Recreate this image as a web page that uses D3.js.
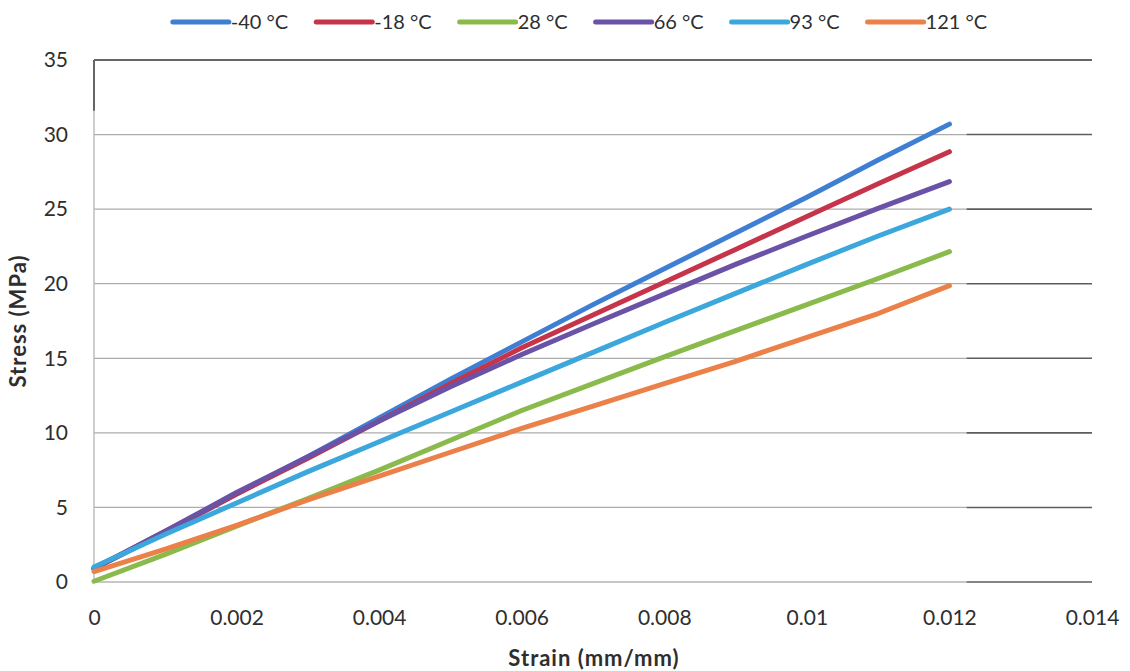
<!DOCTYPE html>
<html>
<head>
<meta charset="utf-8">
<script src="https://cdn.jsdelivr.net/npm/d3@7"></script>
<style>
  body { margin: 0; background: #fff; }
  text { font-family: Lato, "Open Sans", sans-serif; fill: #2e2e2e; }
</style>
</head>
<body>
<svg id="chart" width="1130" height="671"></svg>
<script>
// Strain samples (mm/mm) and measured stress (MPa) per test temperature
const strain = [0, 0.001, 0.002, 0.003, 0.004, 0.005, 0.006, 0.007, 0.008, 0.009, 0.010, 0.011, 0.012];
const seriesNames = ["-40 °C", "-18 °C", "28 °C", "66 °C", "93 °C", "121 °C"];
const stressM40 = [0.9, 3.3, 5.9, 8.4, 11.0, 13.6, 16.1, 18.6, 21.0, 23.4, 25.8, 28.3, 30.7];
const stressM18 = [0.9, 3.4, 5.9, 8.3, 10.8, 13.3, 15.7, 17.9, 20.1, 22.3, 24.5, 26.7, 28.85];
const stress28  = [0.05, 1.85, 3.75, 5.6, 7.5, 9.5, 11.5, 13.3, 15.1, 16.85, 18.6, 20.35, 22.15];
const stress66  = [0.9, 3.4, 6.0, 8.4, 10.8, 13.1, 15.25, 17.3, 19.3, 21.3, 23.2, 25.05, 26.85];
const stress93  = [1.0, 3.2, 5.3, 7.4, 9.4, 11.4, 13.4, 15.4, 17.4, 19.35, 21.3, 23.2, 25.0];
const stress121 = [0.7, 2.2, 3.8, 5.5, 7.1, 8.7, 10.3, 11.8, 13.3, 14.8, 16.4, 18.0, 19.87];
const seriesColors = ["#3f7fd3", "#c6344a", "#8aba4c", "#6a52a6", "#3ca7dc", "#eb8049"];

const xTickValues = [0, 0.002, 0.004, 0.006, 0.008, 0.010, 0.012, 0.014];
const xTickLabels = ["0", "0.002", "0.004", "0.006", "0.008", "0.01", "0.012", "0.014"];
const yTickValues = [0, 5, 10, 15, 20, 25, 30, 35];
const yTickLabels = ["0", "5", "10", "15", "20", "25", "30", "35"];

const series = [stressM40, stressM18, stress28, stress66, stress93, stress121].map((vals, i) => ({
  name: seriesNames[i],
  color: seriesColors[i],
  points: strain.map((s, j) => [s, vals[j]])
}));

const svg = d3.select("#chart");
const W = 1130, H = 671;
const margin = { top: 60, right: 38, bottom: 89, left: 94 };

const x = d3.scaleLinear().domain([0, 0.014]).range([margin.left, W - margin.right]);
const y = d3.scaleLinear().domain([0, 35]).range([H - margin.bottom, margin.top]);

// Horizontal gridlines (light across the data, darker near the right edge)
const gridSplit = 0.01224;
const grid = svg.append("g");
grid.selectAll("line.light").data(yTickValues.slice(1, -1)).join("line")
  .attr("x1", x(0)).attr("x2", x(gridSplit))
  .attr("y1", d => y(d)).attr("y2", d => y(d))
  .attr("stroke", "#adadad").attr("stroke-width", 1.3);
grid.selectAll("line.dark").data(yTickValues.slice(1, -1)).join("line")
  .attr("x1", x(gridSplit)).attr("x2", x(0.014))
  .attr("y1", d => y(d)).attr("y2", d => y(d))
  .attr("stroke", "#5c5c5c").attr("stroke-width", 1.6);

// Frame: top edge, left axis, bottom axis
svg.append("line").attr("x1", x(0)).attr("x2", x(0.014)).attr("y1", y(35)).attr("y2", y(35))
  .attr("stroke", "#666").attr("stroke-width", 2);
svg.append("line").attr("x1", x(0)).attr("x2", x(0)).attr("y1", y(35)).attr("y2", y(0))
  .attr("stroke", "#b4b4b4").attr("stroke-width", 1.3);
svg.append("line").attr("x1", x(0)).attr("x2", x(0)).attr("y1", y(35)).attr("y2", y(31.6))
  .attr("stroke", "#666").attr("stroke-width", 2);
svg.append("line").attr("x1", x(0)).attr("x2", x(gridSplit)).attr("y1", y(0)).attr("y2", y(0))
  .attr("stroke", "#b4b4b4").attr("stroke-width", 1.3);
svg.append("line").attr("x1", x(gridSplit)).attr("x2", x(0.014)).attr("y1", y(0)).attr("y2", y(0))
  .attr("stroke", "#5c5c5c").attr("stroke-width", 1.6);

// Axes (labels only)
const xAxis = d3.axisBottom(x).tickValues(xTickValues)
  .tickFormat((d, i) => xTickLabels[i]).tickSize(0).tickPadding(28);
const gx = svg.append("g").attr("transform", `translate(0,${y(0)})`).call(xAxis);
gx.select(".domain").remove();
gx.selectAll("text").attr("font-size", 21).attr("fill", "#2e2e2e")
  .style("font-family", "Lato, sans-serif");

const yAxis = d3.axisLeft(y).tickValues(yTickValues)
  .tickFormat((d, i) => yTickLabels[i]).tickSize(0).tickPadding(26);
const gy = svg.append("g").attr("transform", `translate(${x(0)},0)`).call(yAxis);
gy.select(".domain").remove();
gy.selectAll("text").attr("font-size", 21).attr("fill", "#2e2e2e")
  .style("font-family", "Lato, sans-serif");

// Series lines
const line = d3.line().x(d => x(d[0])).y(d => y(d[1]));
svg.append("g").selectAll("path").data(series).join("path")
  .attr("d", d => line(d.points))
  .attr("fill", "none")
  .attr("stroke", d => d.color)
  .attr("stroke-width", 5)
  .attr("stroke-linecap", "round")
  .attr("stroke-linejoin", "round");

// Axis titles
svg.append("text").attr("x", 594).attr("y", 666).attr("text-anchor", "middle")
  .attr("font-size", 22).attr("font-weight", "bold").attr("letter-spacing", 1)
  .text("Strain (mm/mm)");
svg.append("text").attr("transform", `translate(26,${(y(0) + y(35)) / 2}) rotate(-90)`)
  .attr("text-anchor", "middle").attr("font-size", 22).attr("font-weight", "bold")
  .attr("letter-spacing", 1).text("Stress (MPa)");

// Legend across the top
const legend = svg.append("g");
const items = legend.selectAll("g").data(series).join("g");
items.append("line").attr("x1", 0).attr("x2", 56).attr("y1", 0).attr("y2", 0)
  .attr("stroke", d => d.color).attr("stroke-width", 5).attr("stroke-linecap", "round");
items.append("text").attr("x", 58).attr("y", 0).attr("dy", "0.35em")
  .attr("font-size", 20).text(d => d.name);
const gap = 28;
const total = items.nodes().reduce((s, n) => s + n.getBBox().width, 0) + gap * (series.length - 1);
let start = 580 - total / 2;
items.attr("transform", function () {
  const t = `translate(${start},22)`;
  start += this.getBBox().width + gap;
  return t;
});
</script>
</body>
</html>
